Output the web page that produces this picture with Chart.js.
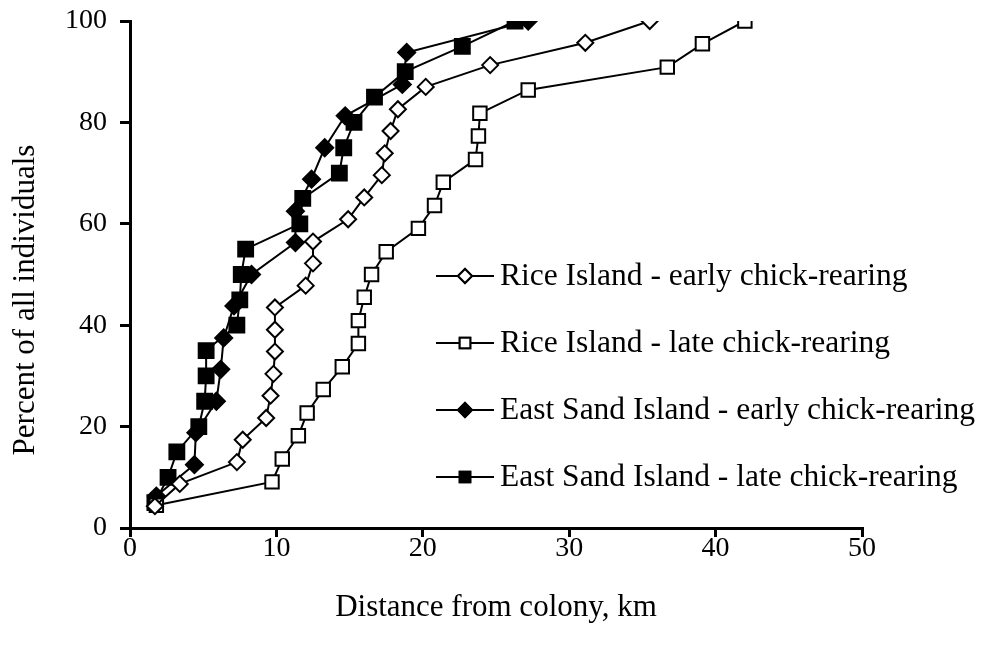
<!DOCTYPE html>
<html>
<head>
<meta charset="utf-8">
<script src="https://cdn.jsdelivr.net/npm/chart.js@4.4.0/dist/chart.umd.min.js"></script>
<style>
  html, body { margin: 0; padding: 0; background: #fff; }
  #wrap { width: 987px; height: 648px; }
</style>
</head>
<body>
<div id="wrap"><canvas id="chart" width="987" height="648"></canvas></div>
<script>
// distance from colony (km) vs cumulative percent of individuals
let riceEarlyX = [1.7, 3.4, 7.3, 7.7, 9.3, 9.6, 9.8, 9.9, 9.9, 9.9, 12.0, 12.5, 12.5, 14.9, 16.0, 17.2, 17.4, 17.8, 18.3, 20.2, 24.6, 31.1, 35.5];
let riceEarlyY = [4.3, 8.7, 13.0, 17.4, 21.7, 26.1, 30.4, 34.8, 39.1, 43.5, 47.8, 52.2, 56.5, 60.9, 65.2, 69.6, 73.9, 78.3, 82.6, 87.0, 91.3, 95.7, 100];

let riceLateX = [1.8, 9.7, 10.4, 11.5, 12.1, 13.2, 14.5, 15.6, 15.6, 16.0, 16.5, 17.5, 19.7, 20.8, 21.4, 23.6, 23.8, 23.9, 27.2, 36.7, 39.1, 42.0];
let riceLateY = [4.5, 9.1, 13.6, 18.2, 22.7, 27.3, 31.8, 36.4, 40.9, 45.5, 50.0, 54.5, 59.1, 63.6, 68.2, 72.7, 77.3, 81.8, 86.4, 90.9, 95.5, 100];

let eastEarlyX = [1.8, 4.4, 4.5, 5.9, 6.2, 6.4, 7.1, 8.3, 11.3, 11.3, 12.4, 13.3, 14.7, 18.6, 18.9, 27.2];
let eastEarlyY = [6.3, 12.5, 18.8, 25.0, 31.3, 37.5, 43.8, 50.0, 56.3, 62.5, 68.8, 75.0, 81.3, 87.5, 93.8, 100];

let eastLateX = [1.7, 2.6, 3.2, 4.7, 5.1, 5.2, 5.2, 7.3, 7.5, 7.6, 7.9, 11.6, 11.8, 14.3, 14.6, 15.3, 16.7, 18.8, 22.7, 26.3];
let eastLateY = [5, 10, 15, 20, 25, 30, 35, 40, 45, 50, 55, 60, 65, 70, 75, 80, 85, 90, 95, 100];

let labels = [
    "Rice Island - early chick-rearing",
    "Rice Island - late chick-rearing",
    "East Sand Island - early chick-rearing",
    "East Sand Island - late chick-rearing"
];

let xTicks = [0, 10, 20, 30, 40, 50];
let yTicks = [0, 20, 40, 60, 80, 100];

function points(xs, ys)
{
    let out = [];
    for (let i = 0; i < xs.length; i++)
    {
        out.push({ x: xs[i], y: ys[i] });
    }
    return out;
}

function series(label, xs, ys, shape, fill, radius)
{
    return {
        label: label,
        data: points(xs, ys),
        showLine: true,
        borderColor: "#000",
        borderWidth: 2,
        pointStyle: shape,
        pointRadius: radius,
        pointBackgroundColor: fill,
        pointBorderColor: "#000",
        pointBorderWidth: 2
    };
}

const SERIF = "'Liberation Serif', 'DejaVu Serif', serif";

// legend drawn inside the plot, right of the curves, plus the y title
const boxLegend = {
    id: "boxLegend",
    afterDraw(chart)
    {
        const ctx = chart.ctx;
        const rows = [276, 343, 410, 477];
        chart.data.datasets.forEach(function(ds, i)
        {
            let y = rows[i];
            ctx.save();
            ctx.strokeStyle = "#000";
            ctx.lineWidth = 2;
            ctx.beginPath();
            ctx.moveTo(436, y);
            ctx.lineTo(494, y);
            ctx.stroke();
            ctx.fillStyle = ds.pointBackgroundColor;
            Chart.helpers.drawPoint(ctx, {
                pointStyle: ds.pointStyle,
                radius: ds.pointStyle == "rect" ? 7.5 : 7,
                borderWidth: 2,
                rotation: 0
            }, 465, y);
            ctx.fill();
            ctx.stroke();
            ctx.fillStyle = "#000";
            ctx.font = "31.5px " + SERIF;
            ctx.textBaseline = "middle";
            ctx.fillText(ds.label, 500, y + 1);
            ctx.restore();
        });

        ctx.save();
        ctx.translate(26, 300);
        ctx.rotate(-Math.PI / 2);
        ctx.fillStyle = "#000";
        ctx.font = "31px " + SERIF;
        ctx.textAlign = "center";
        ctx.textBaseline = "middle";
        ctx.fillText("Percent of all individuals", 0, 0);
        ctx.restore();
    }
};

let ctx = document.getElementById("chart").getContext("2d");
let display = new Chart(ctx,
{
    type: "scatter",
    data:
    {
        datasets: [
            series(labels[0], riceEarlyX, riceEarlyY, "rectRot", "#fff", 8),
            series(labels[1], riceLateX, riceLateY, "rect", "#fff", 9.5),
            series(labels[2], eastEarlyX, eastEarlyY, "rectRot", "#000", 8.5),
            series(labels[3], eastLateX, eastLateY, "rect", "#000", 10.5)
        ]
    },
    options:
    {
        responsive: false,
        animation: false,
        layout: { padding: { top: 21, right: 125, left: 0, bottom: 0 } },
        plugins:
        {
            legend: { display: false },
            tooltip: { enabled: false }
        },
        scales:
        {
            x:
            {
                type: "linear",
                min: 0,
                max: 50,
                afterBuildTicks: function(axis) { axis.ticks = xTicks.map(v => ({ value: v })); },
                afterFit: function(axis) { axis.height = 120; axis.paddingLeft = 0; axis.paddingRight = 0; },
                border: { display: true, color: "#000", width: 3 },
                grid: { drawOnChartArea: false, drawTicks: true, tickLength: 9, color: "#000", lineWidth: 3 },
                ticks: { color: "#000", font: { family: SERIF, size: 28 }, padding: -5 },
                title:
                {
                    display: true,
                    text: "Distance from colony, km",
                    color: "#000",
                    font: { family: SERIF, size: 31 },
                    padding: { top: 0, bottom: 22 }
                }
            },
            y:
            {
                min: 0,
                max: 100,
                afterBuildTicks: function(axis) { axis.ticks = yTicks.map(v => ({ value: v })); },
                afterFit: function(axis) { axis.width = 130; axis.paddingTop = 0; axis.paddingBottom = 0; },
                border: { display: true, color: "#000", width: 3 },
                grid: { drawOnChartArea: false, drawTicks: true, tickLength: 10, color: "#000", lineWidth: 3 },
                ticks: { color: "#000", font: { family: SERIF, size: 28 }, padding: 13 }
            }
        }
    },
    plugins: [boxLegend]
});
</script>
</body>
</html>
